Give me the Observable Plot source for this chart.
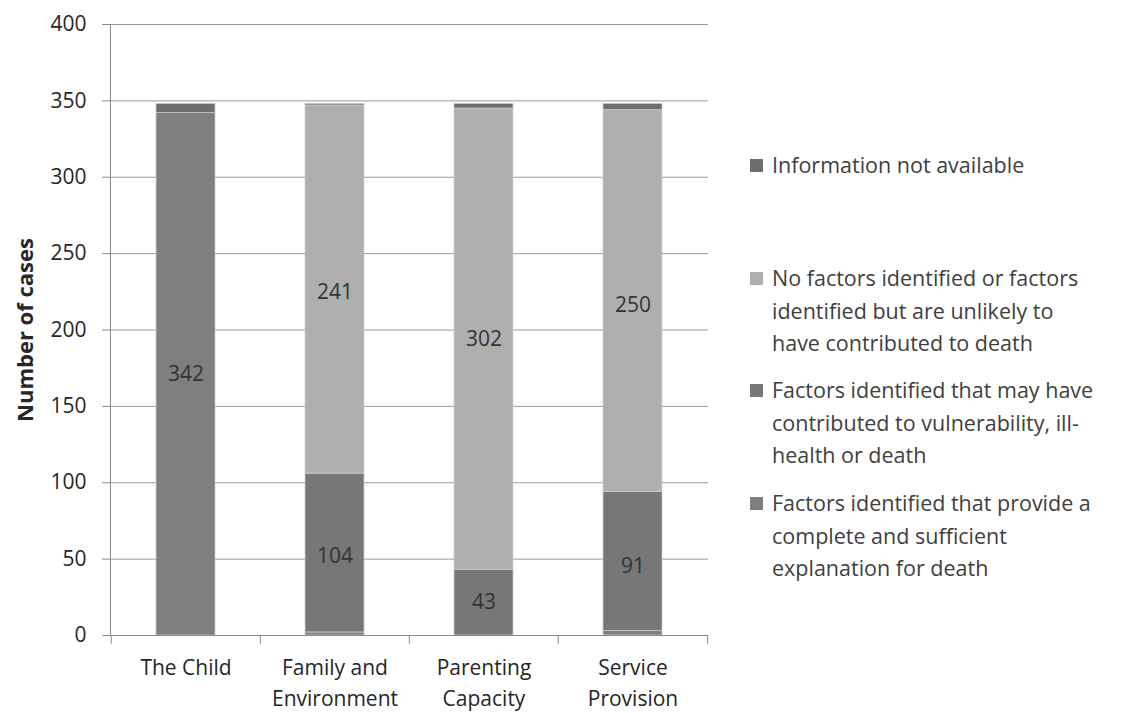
<!DOCTYPE html>
<html>
<head>
<meta charset="utf-8">
<script src="https://cdn.jsdelivr.net/npm/d3@7"></script>
<script src="https://cdn.jsdelivr.net/npm/@observablehq/plot@0.6"></script>
<style>
  html, body { margin: 0; padding: 0; background: #fff; }
  #wrap { position: relative; width: 1122px; height: 713px; font-family: "Open Sans", sans-serif; overflow: hidden; }
  #legend { position: absolute; left: 750px; top: 0; width: 372px; font-size: 21.5px; color: #404040; line-height: 32.5px; }
  .item { position: absolute; left: 0; width: 372px; white-space: nowrap; }
  .sw { position: absolute; left: 0; top: 10px; width: 13px; height: 13px; }
  .tx { margin-left: 22px; }
</style>
</head>
<body>
<div id="wrap"><div id="legend"></div></div>
<script>
const categories = ["The Child", "Family and Environment", "Parenting Capacity", "Service Provision"];
const categoryLines = ["The Child", "Family and\nEnvironment", "Parenting\nCapacity", "Service\nProvision"];
const series = [
  "Factors identified that provide a complete and sufficient explanation for death",
  "Factors identified that may have contributed to vulnerability, ill-health or death",
  "No factors identified or factors identified but are unlikely to have contributed to death",
  "Information not available"
];
const sufficient  = [342, 2, 0, 3];
const contributed = [0, 104, 43, 91];
const noFactors   = [0, 241, 302, 250];
const notAvailable = [6, 1, 3, 4];
const colors = ["#7f7f7f", "#777777", "#afafaf", "#6e6e6e"];
const legendTops = [149, 262, 374, 487];
const legendLines = [
  ["Information not available"],
  ["No factors identified or factors", "identified but are unlikely to", "have contributed to death"],
  ["Factors identified that may have", "contributed to vulnerability, ill-", "health or death"],
  ["Factors identified that provide a", "complete and sufficient", "explanation for death"]
];
const legendOrder = [3, 2, 1, 0];
const yTicks = [0, 50, 100, 150, 200, 250, 300, 350, 400];

const seriesValues = [sufficient, contributed, noFactors, notAvailable];
const data = [];
series.forEach((s, si) => categories.forEach((c, ci) => {
  data.push({category: c, series: s, value: seriesValues[si][ci]});
}));
const labelled = data.filter(d => d.value >= 20);

const W = 1122, H = 713;
const mL = 110, mR = 414, mT = 24, mB = 78;
const step = (W - mL - mR) / categories.length;
const FONT = "'Open Sans', sans-serif";
const FS = 21;
const tickShape = {draw(context, l) { context.moveTo(0, 0); context.lineTo(0, -l); }};

const plot = Plot.plot({
  width: W, height: H,
  marginLeft: mL, marginRight: mR, marginTop: mT, marginBottom: mB,
  style: {fontFamily: FONT, fontSize: FS + "px", color: "#262626", background: "transparent"},
  x: {domain: categories, padding: 0, axis: null},
  y: {domain: [0, 400], axis: null},
  color: {domain: series, range: colors},
  marks: [
    Plot.gridY(yTicks, {stroke: "#9a9a9a", strokeOpacity: 1, strokeWidth: 1}),
    Plot.barY(data, Plot.stackY({order: series}, {
      x: "category", y: "value", fill: "series", z: "series", insetLeft: 45, insetRight: 45,
      stroke: "#cfcfcf", strokeWidth: 0.7
    })),
    Plot.text(labelled, Plot.stackY({order: series}, {
      x: "category", y: "value", z: "series", text: d => String(d.value), fill: "#333333", fontSize: FS
    })),
    Plot.axisY(yTicks, {tickSize: 8, tickPadding: 16, stroke: "#8a8a8a", fill: "#262626", fontSize: FS, label: null}),
    Plot.ruleY([0], {stroke: "#8a8a8a", strokeWidth: 1}),
    Plot.frame({anchor: "left", stroke: "#8a8a8a"}),
    Plot.axisX({tickSize: 0, tickPadding: 18, tickFormat: d => categoryLines[categories.indexOf(d)], fontSize: FS, fill: "#262626", label: null, lineHeight: 1.45}),
    Plot.vector(categories, {x: d => d, y: 0, dx: -step / 2, length: 8, rotate: 180, anchor: "start", shape: tickShape, stroke: "#8a8a8a", strokeWidth: 1}),
    Plot.vector(categories.slice(-1), {x: d => d, y: 0, dx: step / 2, length: 8, rotate: 180, anchor: "start", shape: tickShape, stroke: "#8a8a8a", strokeWidth: 1}),
    Plot.text(["Number of cases"], {frameAnchor: "left", textAnchor: "middle", dx: -85, rotate: -90, fontWeight: "bold", fontSize: 22, fill: "#262626", text: d => d})
  ]
});
plot.style.position = "absolute";
plot.style.left = "0px";
plot.style.top = "0px";
document.getElementById("wrap").prepend(plot);

const leg = document.getElementById("legend");
legendOrder.forEach((si, k) => {
  const item = document.createElement("div");
  item.className = "item";
  item.style.top = legendTops[k] + "px";
  const sw = document.createElement("div");
  sw.className = "sw";
  sw.style.background = colors[si];
  item.appendChild(sw);
  const tx = document.createElement("div");
  tx.className = "tx";
  tx.innerHTML = legendLines[k].join("<br>");
  item.appendChild(tx);
  leg.appendChild(item);
});
</script>
</body>
</html>
